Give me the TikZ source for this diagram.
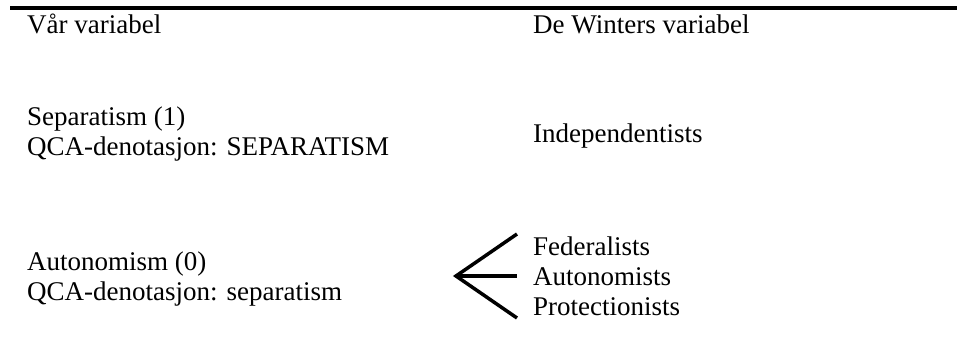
\documentclass[tikz,border=0pt]{standalone}
\usepackage{fontspec}
\setmainfont{Liberation Serif}
\begin{document}
\begin{tikzpicture}[x=1pt,y=-1pt,
  txt/.style={anchor=base west, inner sep=0pt, font=\fontsize{27}{30}\selectfont},
  rule/.style={line width=3.5pt},
  branch/.style={line width=3.5pt}]
\useasboundingbox (0,0) rectangle (957,356);
% top rule
\coordinate (ruleL) at (10,8);
\coordinate (ruleR) at (957,8);
\draw[rule] (ruleL) -- (ruleR);
% headers
\node[txt] (hleft) at (27,33) {Vår variabel};
\node[txt] (hright) at (533,33) {De Winters variabel};
% separatism block
\node[txt] (sep1) at (27,125) {Separatism (1)};
\node[txt] (sep2) at (27,155) {QCA-denotasjon: SEPARATISM};
\node[txt] (indep) at (533,142) {Independentists};
% autonomism block
\node[txt] (aut1) at (27,270) {Autonomism (0)};
\node[txt] (aut2) at (27,300) {QCA-denotasjon: separatism};
\node[txt] (fed) at (533,255) {Federalists};
\node[txt] (auto) at (533,285) {Autonomists};
\node[txt] (prot) at (533,315) {Protectionists};
% branching lines
\coordinate (apex) at (456,276);
\coordinate (endA) at (517,234);
\coordinate (endB) at (517,276);
\coordinate (endC) at (517,318);
\draw[branch] (endA) -- (apex) -- (endC);
\draw[branch] (apex) -- (endB);
\end{tikzpicture}
\end{document}
